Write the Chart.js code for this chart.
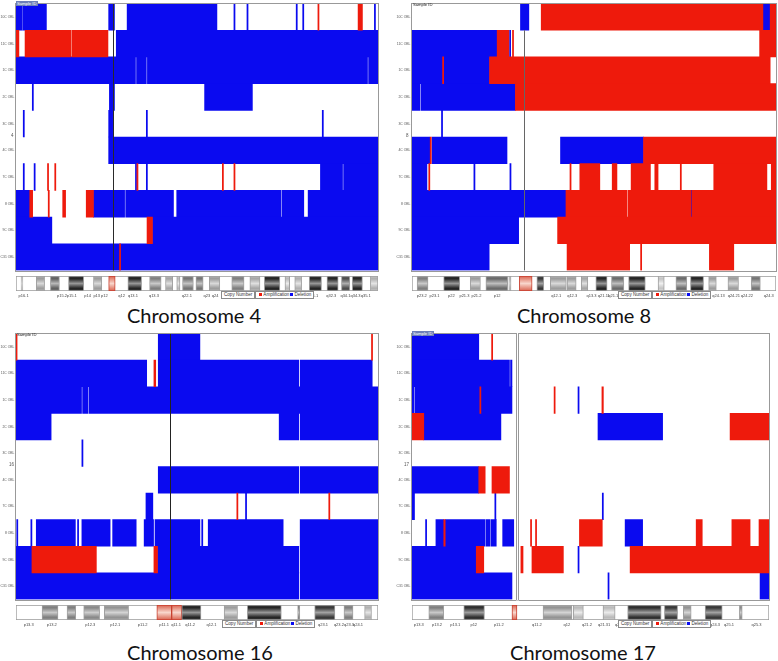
<!DOCTYPE html>
<html>
<head>
<meta charset="utf-8">
<script src="https://cdn.jsdelivr.net/npm/chart.js@4.4.1/dist/chart.umd.min.js"></script>
<style>
  body { margin: 0; background: #fff; width: 778px; height: 661px; overflow: hidden; position: relative; font-family: "Liberation Sans Narrow", "Liberation Sans", Arial, sans-serif; }
  canvas { position: absolute; }
  .title { position: absolute; width: 300px; text-align: center; font-family: Lato, sans-serif; font-size: 20px; line-height: 20px; color: #111; }
  .key { position: absolute; display: flex; font-size: 4.6px; line-height: 6px; color: #333; white-space: nowrap; z-index: 2; }
  .key span.cell { border: 1px solid #8a8a8a; background: #fff; padding: 0 2px; }
  .key i { display: inline-block; width: 3px; height: 3px; margin: 0 1px 0 1px; }
  .tag { position: absolute; font-size: 4.2px; line-height: 5px; color: #222; z-index: 2; }
  .tag.sel { background: #6d7fb8; color: #fff; padding: 0 1px; }
  .num { position: absolute; font-size: 4.5px; color: #555; z-index: 2; }
</style>
</head>
<body>
<canvas id="c4m" width="379" height="274" style="left:0px;top:0px"></canvas>
<canvas id="c4i" width="379" height="25" style="left:0px;top:275px"></canvas>
<canvas id="c8m" width="387" height="274" style="left:390px;top:0px"></canvas>
<canvas id="c8i" width="387" height="25" style="left:390px;top:275px"></canvas>
<canvas id="c16m" width="379" height="273" style="left:0px;top:330px"></canvas>
<canvas id="c16i" width="379" height="25" style="left:0px;top:604px"></canvas>
<canvas id="c17m" width="380" height="273" style="left:390px;top:330px"></canvas>
<canvas id="c17i" width="380" height="25" style="left:390px;top:604px"></canvas>

<div class="title" style="left:44px;top:305px">Chromosome 4</div>
<div class="title" style="left:434px;top:305px">Chromosome 8</div>
<div class="title" style="left:50px;top:642px">Chromosome 16</div>
<div class="title" style="left:433px;top:642px">Chromosome 17</div>

<div class="tag sel" style="left:16px;top:1px">Sample ID</div>
<div class="tag" style="left:413px;top:2px">Sample ID</div>
<div class="tag" style="left:17px;top:332px">Sample ID</div>
<div class="tag sel" style="left:412px;top:331px">Sample ID</div>
<div class="num" style="left:11px;top:133px">4</div>
<div class="num" style="left:406px;top:133px">8</div>
<div class="num" style="left:9px;top:462px">16</div>
<div class="num" style="left:404px;top:462px">17</div>

<div class="key" style="left:221px;top:291px"><span class="cell">Copy Number</span><span class="cell"><i style="background:#ee1a0c"></i>Amplification<i style="background:#0a0af0"></i>Deletion</span></div>
<div class="key" style="left:618px;top:291px"><span class="cell">Copy Number</span><span class="cell"><i style="background:#ee1a0c"></i>Amplification<i style="background:#0a0af0"></i>Deletion</span></div>
<div class="key" style="left:222px;top:620px"><span class="cell">Copy Number</span><span class="cell"><i style="background:#ee1a0c"></i>Amplification<i style="background:#0a0af0"></i>Deletion</span></div>
<div class="key" style="left:618px;top:620px"><span class="cell">Copy Number</span><span class="cell"><i style="background:#ee1a0c"></i>Amplification<i style="background:#0a0af0"></i>Deletion</span></div>

<script>
// rows (samples), positions are % of chromosome length
const samples = ['10C OBL', '11C OBL', '1C OBL', '2C OBL', '3C OBL', '4C OBL', '7C OBL', '8 OBL', '9C OBL', 'C31 OBL'];
const AMP = '#ee1a0c';
const DEL = '#0a0af0';
const TINY = "'Liberation Sans Narrow', 'Liberation Sans', sans-serif";

// chromosome 4: [row, start, end]
const chr4Del = [
  [0, 0, 1.7], [0, 1.9, 8.4], [0, 25.6, 27.2], [0, 30.7, 55.5], [0, 60.2, 60.5], [0, 63.8, 64.1], [0, 77.4, 77.7], [0, 79.2, 79.5], [0, 99.0, 99.3],
  [1, 27.7, 100],
  [2, 0, 33.0], [2, 33.3, 36.0], [2, 36.3, 97.1], [2, 97.4, 100],
  [3, 4.5, 4.8], [3, 25.8, 27.2], [3, 52.1, 65.3],
  [4, 2.0, 2.3], [4, 25.6, 26.7], [4, 36.0, 36.3], [4, 84.6, 84.9],
  [5, 25.6, 100],
  [6, 2.0, 2.3], [6, 5.0, 5.3], [6, 33.0, 33.3], [6, 36.0, 36.3], [6, 84.1, 90.2], [6, 90.5, 100],
  [7, 0, 3.8], [7, 21.4, 30.0], [7, 30.3, 43.5], [7, 44.4, 73.2], [7, 73.5, 79.5], [7, 80.7, 100],
  [8, 0, 9.9], [8, 37.7, 100],
  [9, 0, 100]
];
const chr4Amp = [
  [0, 83.4, 83.7], [0, 94.5, 95.7],
  [1, 0, 0.8], [1, 2.5, 15.1], [1, 15.4, 25.4],
  [6, 8.7, 9.0], [6, 10.7, 11.0], [6, 33.4, 33.7], [6, 57.0, 57.3], [6, 60.2, 60.5],
  [7, 3.8, 4.6], [7, 8.9, 9.2], [7, 12.9, 13.7], [7, 19.4, 21.4],
  [8, 36.2, 37.7],
  [9, 28.6, 28.9]
];
// ideogram bands: [start, end, darkness 0-1 or 'c' for centromere]
const chr4Bands = [
  [1.4, 1.9, 0.15], [5.6, 7.9, 0.3], [9.5, 12.0, 0.6], [14.5, 18.7, 0.9], [21.4, 23.7, 0.3], [25.6, 27.4, 'c'],
  [30.9, 34.7, 0.9], [36.9, 40.1, 0.45], [41.3, 43.3, 0.25], [44.4, 45.3, 0.15], [46.0, 49.0, 0.5], [49.7, 51.7, 0.5],
  [53.4, 56.3, 0.3], [59.6, 63.0, 0.45], [64.6, 67.4, 0.25], [68.6, 72.9, 0.9], [74.3, 75.6, 0.15], [77.0, 78.9, 0.2],
  [81.0, 84.4, 0.9], [85.9, 89.0, 0.9], [89.9, 92.2, 0.7], [92.9, 95.7, 0.9], [97.9, 100, 0.2]
];
const chr4Labels = [
  [2.1, 'p16.1'], [12.7, 'p15.2'], [15.4, 'p15.1'], [19.8, 'p14'], [22.3, 'p13'], [24.4, 'p12'], [29.2, 'q12'],
  [32.3, 'q13.1'], [38.1, 'q13.3'], [47.2, 'q22.1'], [52.7, 'q23'], [55.0, 'q24'], [82.1, 'q31.1'], [87.1, 'q32.3'],
  [91.0, 'q34.1'], [93.8, 'q34.3'], [96.6, 'q35.1']
];

// chromosome 8
const chr8Del = [
  [0, 29.8, 32.1], [0, 96.4, 98.4],
  [1, 0, 23.4], [1, 26.8, 27.1],
  [2, 0, 21.3],
  [3, 0, 2.2], [3, 2.5, 28.4],
  [4, 8.1, 8.4],
  [5, 0, 4.9], [5, 5.5, 26.1], [5, 40.8, 63.6],
  [6, 0, 4.1], [6, 17.0, 17.3], [6, 26.9, 27.2],
  [7, 0, 42.3], [7, 76.6, 76.9],
  [8, 0, 29.3],
  [9, 0, 21.2]
];
const chr8Amp = [
  [0, 35.5, 96.4], [0, 98.4, 100],
  [1, 23.4, 26.6], [1, 27.6, 27.9], [1, 95.5, 100],
  [2, 8.4, 8.7], [2, 21.3, 98.4],
  [3, 28.4, 100],
  [5, 5.0, 5.3], [5, 63.6, 100],
  [6, 4.6, 4.9], [6, 43.4, 43.7], [6, 46.1, 51.6], [6, 55.0, 56.3], [6, 60.2, 65.5], [6, 66.7, 67.6], [6, 73.7, 74.0], [6, 82.9, 97.5], [6, 98.7, 100],
  [7, 42.3, 59.1], [7, 59.4, 76.6], [7, 76.9, 100],
  [8, 40.0, 100],
  [9, 42.6, 59.8], [9, 62.8, 63.1], [9, 81.7, 88.4]
];
const chr8Bands = [
  [1.4, 4.4, 0.45], [8.7, 13.1, 0.9], [16.0, 18.8, 0.3], [20.3, 26.3, 0.55], [26.6, 27.2, 0.2], [29.5, 33.0, 'c'],
  [34.3, 36.2, 0.8], [38.0, 42.4, 0.3], [42.6, 45.1, 0.3], [46.5, 48.3, 0.25], [50.5, 53.6, 0.9], [54.8, 58.2, 0.55],
  [59.5, 64.1, 0.9], [67.6, 69.3, 0.1], [72.5, 75.5, 0.55], [76.5, 80.1, 0.9], [81.5, 83.6, 0.3], [86.8, 89.7, 0.3],
  [93.2, 95.7, 0.5]
];
const chr8Labels = [
  [2.7, 'p23.2'], [6.2, 'p23.1'], [10.8, 'p22'], [14.4, 'p21.3'], [17.7, 'p21.2'], [23.4, 'p12'], [39.6, 'q12.1'],
  [44.0, 'q12.3'], [49.3, 'q13.3'], [52.7, 'q21.11'], [55.6, 'q21.13'], [84.2, 'q24.13'], [88.4, 'q24.21'],
  [92.0, 'q24.22'], [98.0, 'q24.3']
];

// chromosome 16
const chr16Del = [
  [0, 39.3, 50.8],
  [1, 0, 36.1], [1, 39.3, 78.1], [1, 78.5, 98.4],
  [2, 0, 18.1], [2, 18.4, 19.9], [2, 20.2, 100],
  [3, 0, 9.7], [3, 72.7, 78.1], [3, 78.5, 100],
  [4, 18.2, 18.5],
  [5, 39.3, 78.1], [5, 78.5, 100],
  [6, 35.9, 37.8], [6, 63.4, 63.7],
  [7, 0.2, 0.5], [7, 4.1, 4.4], [7, 5.6, 16.4], [7, 17.0, 17.3], [7, 18.2, 26.0], [7, 26.7, 33.2], [7, 35.4, 38.0],
  [7, 38.4, 50.8], [7, 51.3, 51.6], [7, 53.1, 73.8], [7, 78.5, 100],
  [8, 0, 4.4], [8, 39.1, 78.1], [8, 78.5, 100],
  [9, 0, 78.1], [9, 78.5, 100]
];
const chr16Amp = [
  [0, 0, 0.3], [0, 98.2, 98.5],
  [1, 38.1, 38.6],
  [6, 61.0, 61.3], [6, 86.4, 86.7],
  [8, 4.4, 22.2], [8, 38.1, 39.1]
];
const chr16Bands = [
  [7.2, 11.6, 0.45], [14.1, 16.5, 0.45], [18.7, 23.1, 0.4], [24.4, 31.1, 0.35], [38.9, 43.0, 'c'], [43.0, 45.8, 'c'],
  [45.8, 51.1, 0.9], [57.5, 61.2, 0.3], [63.9, 73.3, 0.9], [77.8, 78.4, 0.6], [82.5, 88.1, 0.8], [90.6, 93.1, 0.45],
  [96.3, 98.2, 0.2]
];
const chr16Labels = [
  [3.5, 'p13.3'], [9.9, 'p13.2'], [20.5, 'p12.3'], [27.4, 'p12.1'], [35.0, 'p11.2'], [40.9, 'p11.1'], [44.2, 'q11.1'],
  [48.1, 'q11.2'], [54.0, 'q12.1'], [80.9, 'q22.3'], [84.8, 'q23.1'], [89.2, 'q23.2'], [92.0, 'q23.3'], [94.5, 'q24.1']
];

// chromosome 17
const chr17Del = [
  [0, 0, 18.7],
  [1, 0, 27.3], [1, 27.6, 28.0],
  [2, 0, 0.6], [2, 0.9, 28.0], [2, 46.5, 46.8],
  [3, 3.3, 24.9], [3, 52.1, 70.2],
  [5, 0, 18.7],
  [6, 0, 0.7], [6, 23.2, 23.5], [6, 53.3, 53.6],
  [7, 3.8, 4.1], [7, 6.7, 8.9], [7, 9.3, 20.5], [7, 20.8, 21.9], [7, 22.2, 23.6], [7, 25.4, 28.5], [7, 59.7, 64.6],
  [8, 0, 18.0], [8, 46.5, 46.8],
  [9, 0, 28.0], [9, 54.9, 55.2], [9, 97.5, 100]
];
const chr17Amp = [
  [0, 22.3, 22.6],
  [2, 19.0, 19.3], [2, 39.8, 40.1], [2, 53.2, 53.6],
  [3, 0, 3.3], [3, 89.1, 100],
  [5, 18.7, 20.5], [5, 22.4, 27.3],
  [7, 8.9, 9.3], [7, 33.2, 33.5], [7, 34.6, 34.9], [7, 46.9, 53.3], [7, 79.6, 81.3], [7, 89.6, 94.7], [7, 97.2, 100],
  [8, 18.0, 20.1], [8, 30.5, 31.1], [8, 33.6, 42.4], [8, 61.1, 100]
];
const chr17Bands = [
  [4.7, 8.9, 0.45], [14.5, 20.3, 0.85], [28.0, 29.4, 'c'], [36.7, 44.8, 0.35], [45.2, 48.0, 0.15], [53.5, 56.9, 0.15],
  [60.4, 69.8, 0.85], [70.7, 74.4, 0.8], [76.0, 78.2, 0.35], [82.1, 86.9, 0.8], [91.7, 92.5, 0.4]
];
const chr17Labels = [
  [1.9, 'p13.3'], [7.0, 'p13.2'], [12.1, 'p13.1'], [17.3, 'p12'], [24.3, 'p11.2'], [35.0, 'q11.2'], [43.4, 'q12'],
  [49.0, 'q21.2'], [53.8, 'q21.31'], [58.6, 'q21.32'], [84.9, 'q24.3'], [88.8, 'q25.1'], [96.5, 'q25.3']
];

const toBars = segs => segs.map(s => ({ y: samples[s[0]], x: [s[1], s[2]] }));
const gray = v => `rgb(${v},${v},${v})`;

function bandFill(ctx) {
  const a = ctx.chart.chartArea;
  if (!a || !ctx.raw) return '#999';
  const s = ctx.raw.shade;
  const g = ctx.chart.ctx.createLinearGradient(0, a.top, 0, a.bottom);
  if (s === 'c') {
    g.addColorStop(0, '#d9624e'); g.addColorStop(0.5, '#f8d6cc'); g.addColorStop(1, '#d9624e');
    return g;
  }
  const dark = Math.round(215 - s * 200);
  const light = Math.round(250 - s * 110);
  g.addColorStop(0, gray(Math.min(255, dark + 25)));
  g.addColorStop(0.18, gray(dark));
  g.addColorStop(0.5, gray(light));
  g.addColorStop(0.82, gray(dark));
  g.addColorStop(1, gray(Math.min(255, dark + 25)));
  return g;
}

const framePlugin = {
  id: 'frame',
  afterDatasetsDraw(chart, args, opts) {
    const { ctx, chartArea: a } = chart;
    const x = chart.scales.x;
    ctx.save();
    if (opts.cen != null) {
      const p = Math.round(x.getPixelForValue(opts.cen)) + 0.5;
      ctx.strokeStyle = opts.cenColor || '#333';
      ctx.lineWidth = 1;
      ctx.beginPath(); ctx.moveTo(p, a.top + (opts.cenFrom || 0) * a.height); ctx.lineTo(p, a.bottom); ctx.stroke();
    }
    ctx.strokeStyle = '#999';
    ctx.lineWidth = 1;
    ctx.strokeRect(Math.round(a.left) - 0.5, Math.round(a.top) - 0.5, Math.round(a.width) + 1, Math.round(a.height) + 1);
    if (opts.split) {
      const p1 = Math.round(x.getPixelForValue(opts.split[0]));
      const p2 = Math.round(x.getPixelForValue(opts.split[1]));
      ctx.fillStyle = '#fff';
      ctx.fillRect(p1, a.top - 1, p2 - p1, a.height + 2);
      ctx.beginPath();
      ctx.moveTo(p1 + 0.5, a.top - 0.5); ctx.lineTo(p1 + 0.5, a.bottom + 0.5);
      ctx.moveTo(p2 - 0.5, a.top - 0.5); ctx.lineTo(p2 - 0.5, a.bottom + 0.5);
      ctx.stroke();
    }
    ctx.restore();
  }
};

function panel(id, yw, del, amp, bands, labels, frame) {
  new Chart(document.getElementById(id + 'm'), {
    type: 'bar',
    data: {
      labels: samples,
      datasets: [
        { data: toBars(amp), backgroundColor: AMP, order: 0 },
        { data: toBars(del), backgroundColor: DEL, order: 1 }
      ]
    },
    options: {
      indexAxis: 'y',
      responsive: false,
      animation: false,
      devicePixelRatio: 1,
      layout: { padding: { top: 1, bottom: 1, right: 1 } },
      datasets: { bar: { grouped: false, barPercentage: 1, categoryPercentage: 1, borderWidth: 0 } },
      scales: {
        x: { type: 'linear', min: 0, max: 100, display: false },
        y: {
          type: 'category',
          grid: { display: false, drawTicks: false },
          border: { display: false },
          ticks: { font: { size: 3.4, family: TINY }, color: '#555', padding: 1.5 },
          afterFit: s => { s.width = yw; }
        }
      },
      plugins: { legend: { display: false }, tooltip: { enabled: false }, frame: frame }
    },
    plugins: [framePlugin]
  });

  new Chart(document.getElementById(id + 'i'), {
    type: 'bar',
    data: {
      labels: ['ideo'],
      datasets: [
        {
          data: bands.map(b => ({ y: 'ideo', x: [b[0], b[1]], shade: b[2] })),
          backgroundColor: bandFill,
          borderColor: ctx => (ctx.raw && ctx.raw.shade === 'c') ? '#c84030' : '#a0a0a0',
          borderWidth: 1,
          borderSkipped: false,
          order: 0
        },
        { data: [{ y: 'ideo', x: [0, 100] }], backgroundColor: '#fff', borderColor: '#999', borderWidth: 1, borderSkipped: false, order: 1 }
      ]
    },
    options: {
      indexAxis: 'y',
      responsive: false,
      animation: false,
      devicePixelRatio: 1,
      layout: { padding: { left: yw, right: 1, top: 1 } },
      datasets: { bar: { grouped: false, barPercentage: 1, categoryPercentage: 1 } },
      scales: {
        x: {
          type: 'linear', min: 0, max: 100,
          grid: { display: false, drawTicks: false },
          border: { display: false },
          afterBuildTicks: s => { s.ticks = labels.map(l => ({ value: l[0] })); },
          afterFit: s => { s.height = 9; },
          ticks: {
            autoSkip: false, maxRotation: 0, minRotation: 0, padding: 2,
            font: { size: 4, family: TINY }, color: '#444',
            callback: (v, i) => labels[i] ? labels[i][1] : ''
          }
        },
        y: { display: false }
      },
      plugins: { legend: { display: false }, tooltip: { enabled: false } }
    }
  });
}

panel('c4', 16, chr4Del, chr4Amp, chr4Bands, chr4Labels, { cen: 26.7, cenColor: '#2a2a2a' });
panel('c8', 22, chr8Del, chr8Amp, chr8Bands, chr8Labels, { cen: 30.7, cenColor: '#666', cenFrom: 0.1 });
panel('c16', 16, chr16Del, chr16Amp, chr16Bands, chr16Labels, { cen: 42.6, cenColor: '#222' });
panel('c17', 22, chr17Del, chr17Amp, chr17Bands, chr17Labels, { split: [29.2, 29.9] });
</script>
</body>
</html>
